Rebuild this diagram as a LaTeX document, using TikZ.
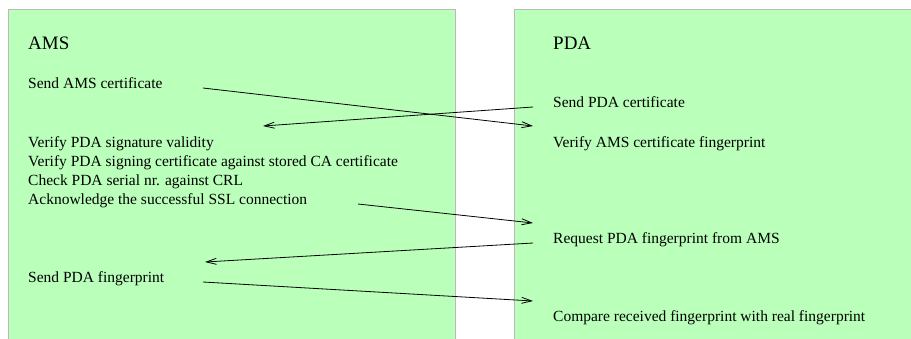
\documentclass[tikz,border=0pt]{standalone}
\usepackage{fontspec}
\setmainfont{Liberation Serif}
\usetikzlibrary{arrows.meta}
\tikzset{
  lane/.style={fill=green!27!white,draw=black!30,line width=1pt},
  step txt/.style={anchor=base west,inner sep=0pt,font=\fontsize{15.5}{18}\selectfont},
  title txt/.style={anchor=base west,inner sep=0pt,font=\fontsize{19}{22}\selectfont},
  msg/.style={line width=0.8pt,-{Straight Barb[length=10pt,width=6pt]}}
}
\begin{document}
\begin{tikzpicture}[x=1pt,y=-1pt]
\useasboundingbox (0,0) rectangle (911,338);
\fill[green!27!white] (8,9) rectangle (455,345);
\draw[black!27,line width=1pt] (8,345) -- (8,9) -- (455,9) -- (455,345);
\fill[green!27!white] (514,9) rectangle (920,345);
\draw[black!27,line width=1pt] (514,345) -- (514,9) -- (920,9);
\node[title txt] (ams) at (28,49) {AMS};
\node[step txt] (amsSend) at (28,88) {Send AMS certificate};
\node[step txt] (amsSig) at (28,147) {Verify PDA signature validity};
\node[step txt] (amsCA) at (28,166) {Verify PDA signing certificate against stored CA certificate};
\node[step txt] (amsCRL) at (28,185) {Check PDA serial nr. against CRL};
\node[step txt] (amsAck) at (28,204) {Acknowledge the successful SSL connection};
\node[step txt] (amsFp) at (28,282) {Send PDA fingerprint};
\node[title txt] (pda) at (553,49) {PDA};
\node[step txt] (pdaSend) at (553,107) {Send PDA certificate};
\node[step txt] (pdaVerify) at (553,147) {Verify AMS certificate fingerprint};
\node[step txt] (pdaReq) at (553,243) {Request PDA fingerprint from AMS};
\node[step txt] (pdaCmp) at (553,321) {Compare received fingerprint with real fingerprint};
\coordinate (m1a) at (203,88);
\coordinate (m1b) at (533,126);
\coordinate (m2a) at (533,107);
\coordinate (m2b) at (263,126);
\coordinate (m3a) at (358,204);
\coordinate (m3b) at (533,223);
\coordinate (m4a) at (533,243);
\coordinate (m4b) at (205,262);
\coordinate (m5a) at (203,282);
\coordinate (m5b) at (533,301);
\draw[msg] (m1a) -- (m1b);
\draw[msg] (m2a) -- (m2b);
\draw[msg] (m3a) -- (m3b);
\draw[msg] (m4a) -- (m4b);
\draw[msg] (m5a) -- (m5b);
\end{tikzpicture}
\end{document}
